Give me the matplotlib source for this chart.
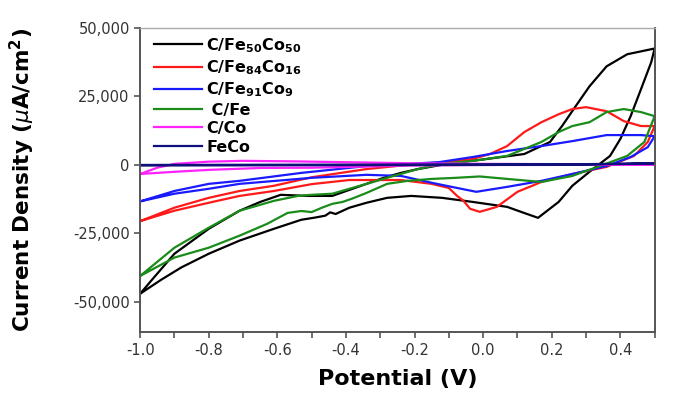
import numpy as np
import matplotlib
matplotlib.use('Agg')
import matplotlib.pyplot as plt

plt.rcParams['axes.unicode_minus'] = False
plt.rcParams['font.family'] = ['DejaVu Sans']

# C/Fe50Co50 (black): forward sweep then return sweep
fe50_x = [-1.0, -0.97, -0.94, -0.88, -0.80, -0.71, -0.61, -0.53, -0.49, -0.46, -0.446, -0.43,
          -0.39, -0.34, -0.28, -0.21, -0.12, -0.03, 0.07, 0.11, 0.16, 0.22, 0.26, 0.31, 0.37,
          0.40, 0.43, 0.46, 0.49, 0.5,
          0.42, 0.36, 0.31, 0.27, 0.23, 0.195, 0.12, 0.0, -0.1, -0.19, -0.24, -0.29, -0.34,
          -0.44, -0.51, -0.59, -0.65, -0.71, -0.80, -0.90, -0.96, -1.0]
fe50_y = [-47000, -44500, -42000, -37400, -32400, -27600, -23300, -20000, -19200, -18500, -17300, -17900,
          -15600, -13800, -12000, -11300, -12000, -13500, -15300, -17100, -19300, -13500, -7600, -2500, 3300,
          9500, 17800, 27600, 37500, 42500,
          40400, 36000, 28700, 21500, 14200, 8400, 4000, 2000, 500, -1500, -2900, -4700, -6900,
          -11300, -11300, -10900, -13500, -16700, -23300, -32400, -41100, -47000]

# C/Fe84Co16 (red)
fe84_x = [-1.0, -0.90, -0.80, -0.71, -0.61, -0.50, -0.39, -0.24, -0.15, -0.10, -0.076, -0.058,
          -0.038, -0.01, 0.04, 0.10, 0.17, 0.26, 0.36, 0.44, 0.48, 0.5,
          0.46, 0.41, 0.36, 0.30, 0.26, 0.22, 0.17, 0.12, 0.07, 0.02, -0.03, -0.10, -0.19,
          -0.34, -0.50, -0.61, -0.71, -0.80, -0.90, -1.0]
fe84_y = [-20500, -16700, -13800, -11300, -9500, -7000, -5500, -5500, -6900, -8400, -11300, -13000,
          -16000, -17100, -15300, -9800, -6200, -3300, -700, 3300, 8400, 14200,
          14200, 16000, 19600, 21100, 20400, 18500, 15600, 12000, 6900, 4000, 2200, 1100, 400,
          -1500, -4500, -7600, -9500, -12000, -15600, -20500]

# C/Fe91Co9 (blue)
fe91_x = [-1.0, -0.90, -0.80, -0.71, -0.50, -0.34, -0.24, -0.15, -0.076, -0.02, 0.07, 0.17,
          0.26, 0.36, 0.43, 0.48, 0.5,
          0.46, 0.36, 0.26, 0.17, 0.07, -0.03, -0.13, -0.34, -0.53, -0.71, -0.80, -0.90, -1.0]
fe91_y = [-13300, -10500, -8700, -6900, -4700, -3600, -4000, -6500, -8400, -9800, -8000, -5800,
          -3300, -400, 2900, 6500, 10500,
          10900, 10900, 8700, 6900, 5100, 2900, 1000, -400, -2900, -5800, -6900, -9500, -13300]

# C/Fe (green)
fe_x = [-1.0, -0.90, -0.80, -0.71, -0.63, -0.57, -0.53, -0.50, -0.47, -0.44, -0.41, -0.38,
        -0.34, -0.28, -0.22, -0.15, -0.08, -0.01, 0.07, 0.17, 0.26, 0.34, 0.42, 0.47, 0.5,
        0.46, 0.41, 0.36, 0.31, 0.26, 0.22, 0.17, 0.07, -0.03, -0.12, -0.19, -0.28, -0.34,
        -0.44, -0.50, -0.54, -0.61, -0.71, -0.80, -0.90, -1.0]
fe_y = [-40500, -33800, -30200, -25800, -21500, -17500, -16800, -17200, -15600, -14200, -13500, -12200,
        -10200, -6900, -5800, -5100, -4700, -4200, -5100, -6200, -4000, -400, 3300, 8400, 17800,
        19300, 20400, 19300, 15600, 14200, 12000, 8400, 3300, 1500, 400, -1500, -4700, -6900,
        -10500, -10900, -11300, -13100, -16700, -22900, -30200, -40500]

# C/Co (magenta)
co_x = [-1.0, -0.9, -0.8, -0.65, -0.5, -0.35, -0.2, 0.0, 0.2, 0.5,
        0.2, 0.0, -0.2, -0.4, -0.55, -0.7, -0.8, -0.9, -0.95, -1.0]
co_y = [-3300, -2500, -1800, -1100, -1000, -600, -200, 0, 0, 200,
        300, 400, 600, 1000, 1300, 1500, 1200, 400, -1000, -3300]

# FeCo (navy)
feco_x = [-1.0, -0.5, 0.0, 0.3, 0.5, 0.3, 0.0, -0.5, -1.0]
feco_y = [-200, -100, 0, 100, 600, 300, 200, 100, 0]

labels = [r'C/Fe$_{\mathbf{50}}$Co$_{\mathbf{50}}$',
          r'C/Fe$_{\mathbf{84}}$Co$_{\mathbf{16}}$',
          r'C/Fe$_{\mathbf{91}}$Co$_{\mathbf{9}}$',
          ' C/Fe', 'C/Co', 'FeCo']
colors = ['black', '#ff1a1a', '#1a1aff', '#1a8c1a', '#ff22ff', '#10107a']
yticks = [-50000, -25000, 0, 25000, 50000]
ytick_labels = ['-50,000', '-25,000', '0', '25,000', '50,000']

fig = plt.figure(figsize=(6.77, 4.05), dpi=100)
ax = fig.add_axes([0.207, 0.180, 0.760, 0.751])

series = [(fe50_x, fe50_y), (fe84_x, fe84_y), (fe91_x, fe91_y),
          (fe_x, fe_y), (co_x, co_y), (feco_x, feco_y)]
for (x, y), c, lab in zip(series, colors, labels):
    ax.plot(x, y, color=c, lw=1.6, label=lab, solid_joinstyle='round')

ax.set_xlim(-1.0, 0.5)
ax.set_ylim(-61000, 50000)
ax.set_xticks(np.arange(-1.0, 0.41, 0.2))
ax.set_xticklabels(['-1.0', '-0.8', '-0.6', '-0.4', '-0.2', '0.0', '0.2', '0.4'])
ax.set_xticks(np.arange(-0.9, 0.51, 0.2), minor=True)
ax.set_yticks(yticks)
ax.set_yticklabels(ytick_labels)
ax.tick_params(axis='both', which='both', direction='out', length=4, width=1.2,
               color='#555555', labelsize=10.5, labelcolor='#333333')
for side in ['left', 'bottom', 'right']:
    ax.spines[side].set_color('#555555')
    ax.spines[side].set_linewidth(1.4)
ax.spines['top'].set_color('#aaaaaa')
ax.spines['top'].set_linewidth(1.0)

ax.set_xlabel('Potential (V)', fontsize=16, fontweight='bold', labelpad=8)
ax.set_ylabel(r'Current Density ($\mu$A/cm$^{\mathbf{2}}$)', fontsize=15.5,
              fontweight='bold', labelpad=26)

ax.legend(loc='upper left', frameon=False, prop={'weight': 'bold', 'size': 11.5},
          handlelength=3.0, labelspacing=0.22, borderaxespad=0.1, handletextpad=0.25,
          bbox_to_anchor=(0.012, 1.0))

fig.savefig('out.png', dpi=100)
